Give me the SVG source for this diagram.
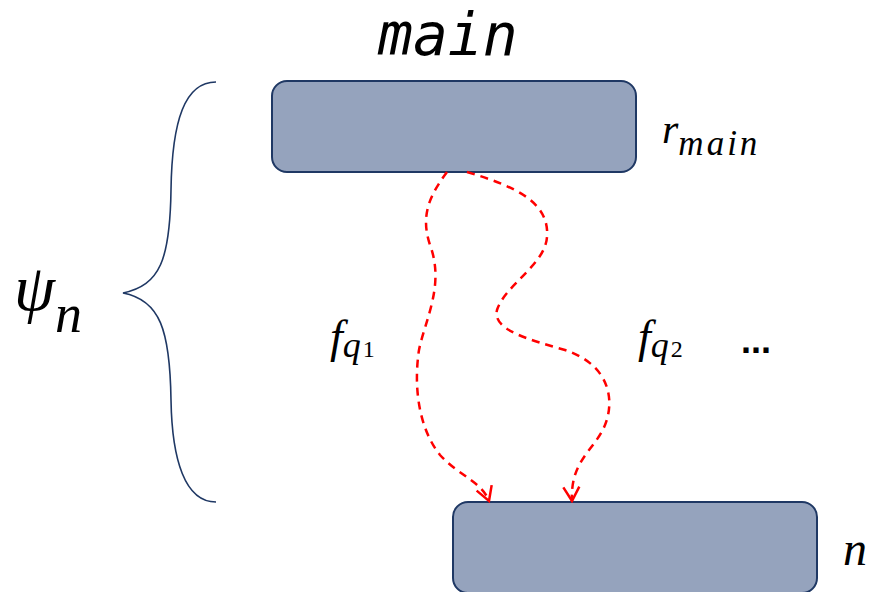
<svg xmlns="http://www.w3.org/2000/svg" width="875" height="592" viewBox="0 0 875 592">
<style>
.box{fill:#95A3BD;stroke:#1F3864;stroke-width:2}
.math{font-family:"Liberation Serif","Times New Roman",serif;font-style:italic;fill:#000}
.mono{font-family:"DejaVu Sans Mono","Liberation Mono",monospace;font-style:italic;fill:#000}
.flow{fill:none;stroke:#FF0000;stroke-width:2.5;stroke-dasharray:8 6}
.brace{fill:none;stroke:#1F3864;stroke-width:1.6}
.digit{font-style:normal;font-size:24px}
</style>
<defs>
<marker id="open" viewBox="0 0 20 20" refX="18" refY="10" markerWidth="20" markerHeight="20" markerUnits="userSpaceOnUse" orient="auto">
<path d="M4,2 L18,10 L4,18" fill="none" stroke="#FF0000" stroke-width="2.5"/>
</marker>
</defs>
<text class="mono" x="378" y="55" font-size="58">main</text>
<g id="main">
<rect class="box" x="272" y="81" width="364" height="91" rx="15"/>
</g>
<g id="n">
<rect class="box" x="453" y="502" width="364" height="91" rx="15"/>
</g>
<g id="connectors">
<path class="flow" marker-end="url(#open)" d="M447,172 C430,195 420,215 430,245 C445,285 425,320 419,350 C413,390 420,430 440,455 C458,475 482,482 489,501"/>
<path class="flow" marker-end="url(#open)" d="M467,172 C510,185 550,200 547,237 C545,265 505,285 497,310 C492,330 530,340 565,350 C610,365 615,400 605,425 C595,450 570,460 572,501"/>
</g>
<g id="brace">
<path class="brace" d="M216,82 C185,82 172,120 171,190 C170,260 160,285 123,293 C160,300 170,330 171,400 C172,460 185,502 216,502"/>
</g>
<text class="math" x="662" y="143" font-size="42">r<tspan font-size="35" dy="12" letter-spacing="3">main</tspan></text>
<text class="math" x="14" y="310" font-size="66">ψ<tspan font-size="54" dy="22">n</tspan></text>
<text class="math" x="330" y="352" font-size="46">f<tspan font-size="36" dy="5">q</tspan><tspan class="digit" dx="2">1</tspan></text>
<text class="math" x="638" y="352" font-size="46">f<tspan font-size="36" dy="5">q</tspan><tspan class="digit" dx="2">2</tspan></text>
<text font-family="Liberation Sans, sans-serif" font-weight="bold" x="741" y="353" font-size="36" fill="#000">...</text>
<text class="math" x="843" y="565" font-size="48">n</text>
</svg>
